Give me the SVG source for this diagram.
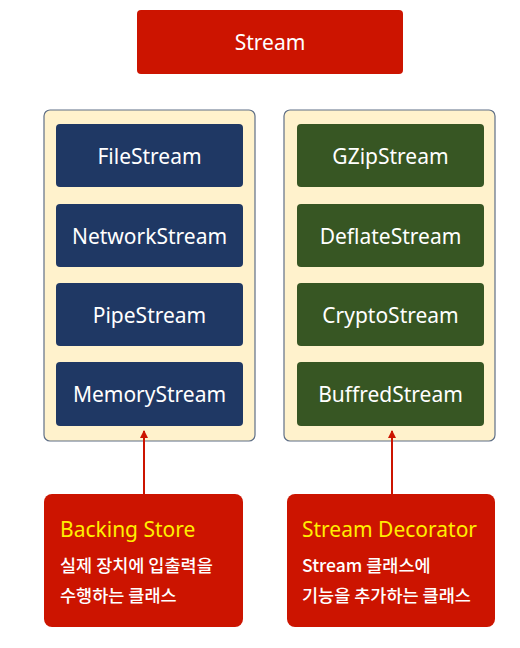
<svg xmlns="http://www.w3.org/2000/svg" width="520" height="648" viewBox="0 0 520 648">
<style>
text{font-family:"Noto Sans","Noto Sans CJK KR",sans-serif;}
.red{fill:#cc1400;}
.cont{fill:#fff2cc;stroke:#5f6f86;stroke-width:1.2;}
.blue{fill:#1f3864;}
.green{fill:#375623;}
.lbl{fill:#ffffff;font-size:21px;text-anchor:middle;}
.title{fill:#ffee00;font-size:21px;}
.desc{fill:#ffffff;font-size:17.5px;font-family:"Noto Sans CJK KR",sans-serif;font-weight:500;}
.conn{stroke:#cc1400;stroke-width:2;fill:none;}
</style>
<defs>
<marker id="ah" markerWidth="8" markerHeight="8" refX="7" refY="4" orient="auto" markerUnits="userSpaceOnUse">
<path d="M0,0 L8,4 L0,8 z" fill="#cc1400"/>
</marker>
</defs>
<rect width="520" height="648" fill="#ffffff"/>
<g id="stream">
<rect class="red" x="137" y="10" width="266" height="64" rx="4"/>
<text class="lbl" x="270" y="50">Stream</text>
</g>
<g id="backing-container">
<rect class="cont" x="44" y="110" width="211" height="331" rx="6"/>
</g>
<g id="filestream"><rect class="blue" x="56" y="124" width="187" height="63" rx="4"/><text class="lbl" x="149.5" y="164">FileStream</text></g>
<g id="networkstream"><rect class="blue" x="56" y="204" width="187" height="63" rx="4"/><text class="lbl" x="149.5" y="244">NetworkStream</text></g>
<g id="pipestream"><rect class="blue" x="56" y="283" width="187" height="63" rx="4"/><text class="lbl" x="149.5" y="323">PipeStream</text></g>
<g id="memorystream"><rect class="blue" x="56" y="362" width="187" height="64" rx="4"/><text class="lbl" x="149.5" y="402">MemoryStream</text></g>
<g id="decorator-container">
<rect class="cont" x="284" y="110" width="211" height="331" rx="6"/>
</g>
<g id="gzipstream"><rect class="green" x="297" y="124" width="187" height="63" rx="4"/><text class="lbl" x="390.5" y="164">GZipStream</text></g>
<g id="deflatestream"><rect class="green" x="297" y="204" width="187" height="63" rx="4"/><text class="lbl" x="390.5" y="244">DeflateStream</text></g>
<g id="cryptostream"><rect class="green" x="297" y="283" width="187" height="63" rx="4"/><text class="lbl" x="390.5" y="323">CryptoStream</text></g>
<g id="buffredstream"><rect class="green" x="297" y="362" width="187" height="64" rx="4"/><text class="lbl" x="390.5" y="402">BuffredStream</text></g>
<g id="backing-store">
<rect class="red" x="44" y="494" width="199" height="133" rx="8"/>
<text class="title" x="60" y="537">Backing Store</text>
<text class="desc" x="60" y="572">실제 장치에 입출력을</text>
<text class="desc" x="60" y="602">수행하는 클래스</text>
</g>
<g id="stream-decorator">
<rect class="red" x="287" y="494" width="208" height="133" rx="8"/>
<text class="title" x="302" y="537">Stream Decorator</text>
<text class="desc" x="302" y="572">Stream 클래스에</text>
<text class="desc" x="302" y="602">기능을 추가하는 클래스</text>
</g>
<g id="connectors">
<line class="conn" x1="144" y1="494" x2="144" y2="431" marker-end="url(#ah)"/>
<line class="conn" x1="392" y1="494" x2="392" y2="431" marker-end="url(#ah)"/>
</g>
</svg>
